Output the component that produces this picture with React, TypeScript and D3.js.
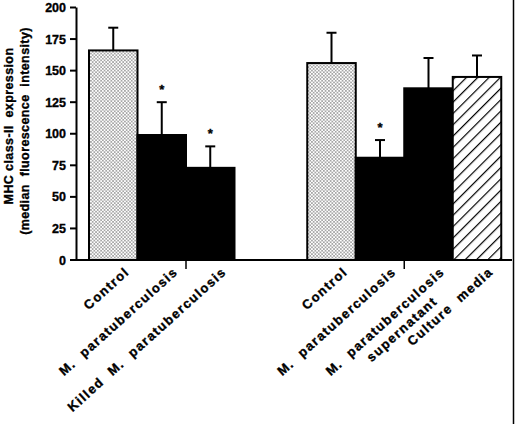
import React from "react";
import * as d3 from "d3";

// ---- data ----
const groupALabels = ["Control", "M.  paratuberculosis", "Killed  M.  paratuberculosis"];
const groupAValues = [166, 99, 73];
const groupAErrors = [18, 26, 17];
const groupASignificant = [false, true, true];
const groupAFills = ["stipple", "solid", "solid"];

const groupBLabels = ["Control", "M.  paratuberculosis", "M.  paratuberculosis\nsupernatant", "Culture  media"];
const groupBValues = [156, 81, 136, 145];
const groupBErrors = [24, 14, 24, 17];
const groupBSignificant = [false, true, false, false];
const groupBFills = ["stipple", "solid", "solid", "hatch"];

const yTicks = [0, 25, 50, 75, 100, 125, 150, 175, 200];
const yTitle = ["MHC class-II  expression", "(median  fluorescence  intensity)"];

const W = 517;
const H = 424;
const FONT = "'Liberation Sans', Arial, Helvetica, sans-serif";

export default function App() {
  const y = d3.scaleLinear().domain([0, 200]).range([260, 7.5]);
  const groupGap = 1.5;
  const bars: { label: string; value: number; err: number; sig: boolean; fill: string; pos: number }[] = [];
  groupALabels.forEach((l, i) =>
    bars.push({ label: l, value: groupAValues[i], err: groupAErrors[i], sig: groupASignificant[i], fill: groupAFills[i], pos: i })
  );
  groupBLabels.forEach((l, i) =>
    bars.push({
      label: l,
      value: groupBValues[i],
      err: groupBErrors[i],
      sig: groupBSignificant[i],
      fill: groupBFills[i],
      pos: groupALabels.length + groupGap + i,
    })
  );
  const totalSlots = groupALabels.length + groupGap + groupBLabels.length;
  const bw = 48.5;
  const x = d3.scaleLinear().domain([0, totalSlots]).range([89, 89 + totalSlots * bw]);
  const groupTicks = [x(2), x(groupALabels.length + groupGap + 2)];

  const fillFor = (f: string) => (f === "stipple" ? "url(#stipple)" : f === "hatch" ? "url(#hatch)" : "#000");
  const heavy = { stroke: "#000", strokeWidth: 0.35 };

  return (
    <svg width={W} height={H} style={{ display: "block", position: "absolute", left: 0, top: 0, background: "#fff" }}>
      <defs>
        <pattern id="stipple" width="3.4" height="3.4" patternUnits="userSpaceOnUse">
          <rect width="3.4" height="3.4" fill="#fff" />
          <circle cx="0.85" cy="0.85" r="0.55" fill="#000" />
          <circle cx="2.55" cy="2.55" r="0.55" fill="#000" />
        </pattern>
        <pattern id="hatch" width="8" height="8" patternUnits="userSpaceOnUse" patternTransform="rotate(45)">
          <rect width="8" height="8" fill="#fff" />
          <line x1="0" y1="0" x2="0" y2="8" stroke="#000" strokeWidth="2.4" />
        </pattern>
      </defs>
      <rect width={W} height={H} fill="#fff" />

      {/* bars */}
      {bars.map((b, i) => (
        <g key={i}>
          <rect
            x={x(b.pos)}
            y={y(b.value)}
            width={bw}
            height={y(0) - y(b.value)}
            fill={fillFor(b.fill)}
            stroke="#000"
            strokeWidth={2}
          />
          <line x1={x(b.pos + 0.5)} x2={x(b.pos + 0.5)} y1={y(b.value)} y2={y(b.value + b.err)} stroke="#000" strokeWidth={2} />
          <line x1={x(b.pos + 0.5) - 5} x2={x(b.pos + 0.5) + 5} y1={y(b.value + b.err)} y2={y(b.value + b.err)} stroke="#000" strokeWidth={2} />
          {b.sig && (
            <text x={x(b.pos + 0.5)} y={y(b.value + b.err) - 8} textAnchor="middle" fontFamily={FONT} fontWeight="bold" fontSize={13} {...heavy}>
              *
            </text>
          )}
        </g>
      ))}

      {/* axes */}
      <line x1={76.5} x2={76.5} y1={y(200)} y2={y(0) + 1} stroke="#000" strokeWidth={2} />
      <line x1={75.5} x2={512} y1={y(0)} y2={y(0)} stroke="#000" strokeWidth={2} />
      {yTicks.map((t) => (
        <g key={t}>
          <line x1={70} x2={76} y1={y(t)} y2={y(t)} stroke="#000" strokeWidth={2} />
          <text x={66} y={y(t)} dy="0.36em" textAnchor="end" fontFamily={FONT} fontWeight="bold" fontSize={12.5} {...heavy}>
            {t}
          </text>
        </g>
      ))}
      {groupTicks.map((gx, i) => (
        <line key={i} x1={gx} x2={gx} y1={y(0)} y2={y(0) + 9} stroke="#000" strokeWidth={1.5} />
      ))}

      {/* y title */}
      <g transform="translate(13,126) rotate(-90)">
        <text textAnchor="middle" fontFamily={FONT} fontWeight="bold" fontSize={12.5} letterSpacing={0.4} style={{ whiteSpace: "pre" }} {...heavy}>
          {yTitle[0]}
        </text>
      </g>
      <g transform="translate(29,131) rotate(-90)">
        <text textAnchor="middle" fontFamily={FONT} fontWeight="bold" fontSize={12.5} letterSpacing={0.4} style={{ whiteSpace: "pre" }} {...heavy}>
          {yTitle[1]}
        </text>
      </g>

      {/* x labels */}
      {bars.map((b, i) => {
        const lines = b.label.split("\n");
        const cx = x(b.pos + 0.5) + 17;
        return (
          <g key={i} transform={`translate(${cx},273) rotate(-42)`}>
            {lines.map((ln, j) => (
              <text
                key={j}
                x={j === 0 ? 0 : -25}
                y={j * 17}
                textAnchor="end"
                fontFamily={FONT}
                fontWeight="bold"
                fontSize={13}
                letterSpacing={1.4}
                style={{ whiteSpace: "pre" }}
                {...heavy}
              >
                {ln}
              </text>
            ))}
          </g>
        );
      })}

      {/* right border */}
      <line x1={513.5} x2={513.5} y1={0} y2={H} stroke="#000" strokeWidth={1.5} />
    </svg>
  );
}
